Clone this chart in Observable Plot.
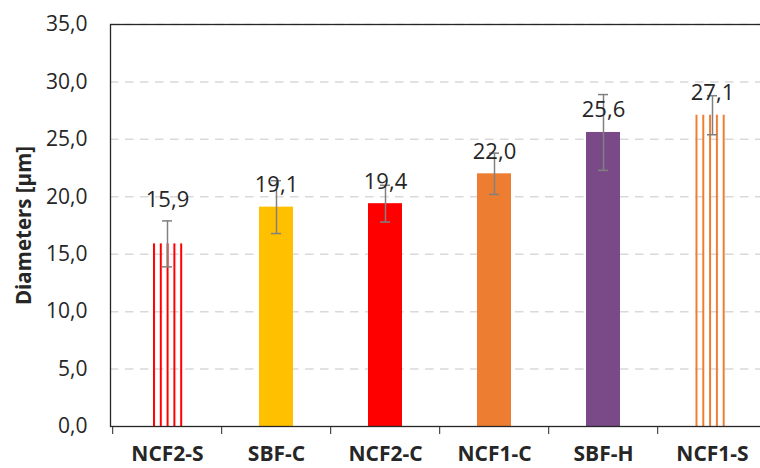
<!DOCTYPE html>
<html>
<head>
<meta charset="utf-8">
<script src="https://cdn.jsdelivr.net/npm/d3@7"></script>
<script src="https://cdn.jsdelivr.net/npm/@observablehq/plot@0.6"></script>
<style>
  html, body { margin: 0; padding: 0; background: #fff; }
  #chart svg { display: block; }
</style>
</head>
<body>
<div id="chart"></div>
<script>
const categories = ["NCF2-S", "SBF-C", "NCF2-C", "NCF1-C", "SBF-H", "NCF1-S"];
const means = [15.9, 19.1, 19.4, 22.0, 25.6, 27.1];
const errors = [2.0, 2.3, 1.6, 1.8, 3.3, 1.7];
const barFills = ["url(#stripe-red)", "#FFC000", "#FF0000", "#ED7D31", "#7A4A88", "url(#stripe-orange)"];
const yTicks = [0, 5, 10, 15, 20, 25, 30, 35];
const yTitle = "Diameters [µm]";

const data = categories.map((c, i) => ({cat: c, mean: means[i], err: errors[i], fill: barFills[i]}));
const fmt = v => d3.format(".1f")(v).replace(".", ",");

const W = 760, H = 468;
const xRange = [111, 768.6];
const step = (xRange[1] - xRange[0]) / categories.length;
const FONT = "'Open Sans', sans-serif";

const plot = Plot.plot({
  width: W,
  height: H,
  marginLeft: 110,
  marginRight: -4,
  marginTop: 24,
  marginBottom: 42,
  style: {fontFamily: FONT, fontSize: "20px", color: "#262626", background: "#fff"},
  x: {domain: categories, range: xRange, paddingInner: 0.69, paddingOuter: 0.345, label: null},
  y: {domain: [0, 35], label: null},
  color: {type: "identity"},
  marks: [
    Plot.gridY(yTicks.filter(t => t > 0), {stroke: "#D9D9D9", strokeOpacity: 1, strokeWidth: 1.5, strokeDasharray: "8.5,6.5"}),
    Plot.barY(data, {x: "cat", y: "mean", fill: "fill"}),
    Plot.ruleX(data, {x: "cat", y1: d => d.mean - d.err, y2: d => d.mean + d.err, stroke: "#808080", strokeWidth: 1.5}),
    Plot.tickY(data, {x: "cat", y: d => d.mean - d.err, stroke: "#808080", strokeWidth: 1.5, insetLeft: 12, insetRight: 12}),
    Plot.tickY(data, {x: "cat", y: d => d.mean + d.err, stroke: "#808080", strokeWidth: 1.5, insetLeft: 12, insetRight: 12}),
    Plot.text(data.filter((d, i) => i !== 0), {x: "cat", y: "mean", text: d => fmt(d.mean), lineAnchor: "bottom", dy: -15, fontSize: 22, fill: "#262626"}),
    Plot.text(data.filter((d, i) => i === 0), {x: "cat", y: "mean", text: d => fmt(d.mean), lineAnchor: "bottom", dy: -37, fontSize: 22, fill: "#262626"}),
    Plot.frame({stroke: "#262626", strokeWidth: 1.3}),
    Plot.axisY({ticks: yTicks, tickSize: 0, tickPadding: 23, tickFormat: fmt, fontSize: 21, label: null}),
    Plot.axisX({tickSize: 8, dx: -step / 2, tickFormat: () => "", label: null, stroke: "#262626"}),
    Plot.axisX({tickSize: 0, tickPadding: 20, fontSize: 21, fontWeight: "bold", label: null}),
    Plot.text([yTitle], {frameAnchor: "left", textAnchor: "middle", rotate: -90, dx: -86, fontWeight: "bold", fontSize: 20.5, fill: "#262626"})
  ]
});

// stripe patterns aligned to each hatched bar
const xs = plot.scale("x");
const defs = d3.select(plot).insert("defs", ":first-child");
function stripe(id, color, cat, phase) {
  const x0 = xs.apply(cat);
  const p = defs.append("pattern").attr("id", id).attr("patternUnits", "userSpaceOnUse")
    .attr("x", x0 + phase).attr("y", 0).attr("width", 6.8).attr("height", 10);
  p.append("rect").attr("x", 0).attr("y", 0).attr("width", 2).attr("height", 10).attr("fill", color);
}
stripe("stripe-red", "#FF0000", "NCF2-S", 3);
stripe("stripe-orange", "#ED7D31", "NCF1-S", 0.5);

document.getElementById("chart").appendChild(plot);
</script>
</body>
</html>
